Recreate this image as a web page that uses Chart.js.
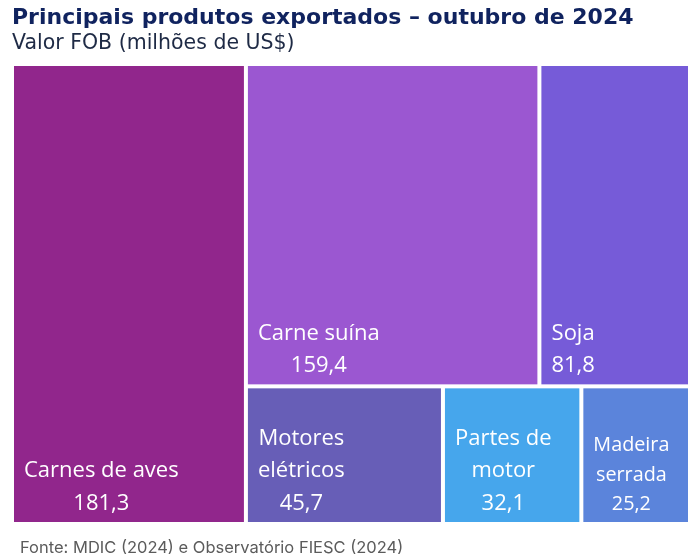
<!DOCTYPE html>
<html lang="pt-BR">
<head>
<meta charset="utf-8">
<title>Principais produtos exportados – outubro de 2024</title>
<script src="https://cdn.jsdelivr.net/npm/chart.js@4.4.1/dist/chart.umd.min.js"></script>
<style>
    html, body { margin: 0; padding: 0; background: #fff; }
    #wrap { width: 694px; height: 560px; position: relative; }
</style>
</head>
<body>
<div id="wrap"><canvas id="treemap"></canvas></div>
<script>
const produtos = ['Carnes de aves', 'Carne suína', 'Soja', 'Motores elétricos', 'Partes de motor', 'Madeira serrada'];
const valores = [181.3, 159.4, 81.8, 45.7, 32.1, 25.2];
const cores = ['#91268c', '#9b57d1', '#765bd8', '#675eb7', '#46a6ec', '#5b84db'];
// quantos produtos entram em cada faixa do treemap (na ordem dos valores)
const faixas = [1, 2, 3];
const fonteTexto = 'Fonte: MDIC (2024) e Observatório FIESC (2024)';

const fmt = new Intl.NumberFormat('pt-BR', { minimumFractionDigits: 1, maximumFractionDigits: 1 });

// divide a área [0,1]x[0,1] em faixas; w e h são o tamanho real em pixels
function montaTreemap(w, h) {
    let resto = { x: 0, y: 0, w: 1, h: 1 };
    let restoValor = valores.reduce((a, b) => a + b, 0);
    let i = 0;
    const cells = [];

    faixas.forEach((n, k) => {
        const grupo = valores.slice(i, i + n);
        const soma = grupo.reduce((a, b) => a + b, 0);
        const frac = k === faixas.length - 1 ? 1 : soma / restoValor;
        let faixa;

        if (resto.w * w >= resto.h * h) {
            // coluna à esquerda
            faixa = { x: resto.x, y: resto.y, w: resto.w * frac, h: resto.h };
            resto = { x: resto.x + faixa.w, y: resto.y, w: resto.w - faixa.w, h: resto.h };
        } else {
            // linha no topo
            faixa = { x: resto.x, y: resto.y, w: resto.w, h: resto.h * frac };
            resto = { x: resto.x, y: resto.y + faixa.h, w: resto.w, h: resto.h - faixa.h };
        }

        let pos = 0;
        grupo.forEach((v, j) => {
            const f = v / soma;
            if (faixa.w * w >= faixa.h * h) {
                cells.push({ i: i + j, x0: faixa.x + pos * faixa.w, x1: faixa.x + (pos + f) * faixa.w, y0: faixa.y, y1: faixa.y + faixa.h });
            } else {
                cells.push({ i: i + j, x0: faixa.x, x1: faixa.x + faixa.w, y0: faixa.y + pos * faixa.h, y1: faixa.y + (pos + f) * faixa.h });
            }
            pos += f;
        });

        restoValor -= soma;
        i += n;
    });

    return cells;
}

function quebraLinhas(ctx, texto, maxW) {
    const linhas = [];
    let atual = '';
    texto.split(' ').forEach(p => {
        const teste = atual ? atual + ' ' + p : p;
        if (atual && ctx.measureText(teste).width > maxW) {
            linhas.push(atual);
            atual = p;
        } else {
            atual = teste;
        }
    });
    linhas.push(atual);
    return linhas;
}

const treemapPlugin = {
    id: 'treemapCells',
    beforeDatasetsDraw(chart) {
        const { ctx, scales: { x, y } } = chart;
        const w = Math.abs(x.getPixelForValue(1) - x.getPixelForValue(0));
        const h = Math.abs(y.getPixelForValue(1) - y.getPixelForValue(0));
        const gap = 2;

        ctx.save();
        montaTreemap(w, h).forEach(c => {
            const left = x.getPixelForValue(c.x0) + gap;
            const right = x.getPixelForValue(c.x1) - gap;
            const top = y.getPixelForValue(c.y0) + gap;
            const bottom = y.getPixelForValue(c.y1) - gap;

            ctx.fillStyle = cores[c.i];
            ctx.fillRect(left, top, right - left, bottom - top);

            // rótulo: nome + valor, no canto inferior esquerdo
            const pad = 10;
            const maxW = right - left - 2 * 12;
            let size = 22;
            ctx.font = size + 'px "Open Sans"';
            const maiorPalavra = () => Math.max(...produtos[c.i].split(' ').map(p => ctx.measureText(p).width));
            while (maiorPalavra() > maxW && size > 9) {
                size = size * 0.9;
                ctx.font = size + 'px "Open Sans"';
            }

            const linhas = quebraLinhas(ctx, produtos[c.i], maxW);
            linhas.push(fmt.format(valores[c.i]));
            const blocoW = Math.max(...linhas.map(l => ctx.measureText(l).width));
            const lh = size * 1.48;
            const cx = left + pad + blocoW / 2;

            ctx.fillStyle = '#ffffff';
            ctx.textAlign = 'center';
            ctx.textBaseline = 'alphabetic';
            linhas.forEach((l, k) => {
                ctx.fillText(l, cx, bottom - 12 - (linhas.length - 1 - k) * lh);
            });
        });
        ctx.restore();
    },
    afterDraw(chart) {
        const { ctx } = chart;
        ctx.save();
        ctx.font = '16.5px Inter';
        ctx.fillStyle = '#5b5b5b';
        ctx.textAlign = 'left';
        ctx.textBaseline = 'alphabetic';
        ctx.fillText(fonteTexto, 20, 553);
        ctx.restore();
    }
};

new Chart(document.getElementById('treemap'), {
    type: 'scatter',
    data: {
        datasets: [{
            label: 'Valor FOB',
            data: [],
            pointRadius: 0
        }]
    },
    options: {
        responsive: true,
        maintainAspectRatio: false,
        animation: false,
        events: [],
        layout: {
            padding: { left: 12, right: 4, top: 0, bottom: 36 }
        },
        scales: {
            x: { type: 'linear', min: 0, max: 1, display: false },
            y: { type: 'linear', min: 0, max: 1, reverse: true, display: false }
        },
        plugins: {
            legend: { display: false },
            tooltip: { enabled: false },
            title: {
                display: true,
                text: 'Principais produtos exportados – outubro de 2024',
                align: 'start',
                color: '#10235f',
                font: { family: '"DejaVu Sans"', size: 22, weight: 'bold' },
                padding: { top: 5, bottom: 0 }
            },
            subtitle: {
                display: true,
                text: 'Valor FOB (milhões de US$)',
                align: 'start',
                color: '#1e2a45',
                font: { family: '"DejaVu Sans"', size: 20.5, weight: 'normal' },
                padding: { top: 0, bottom: 8 }
            }
        }
    },
    plugins: [treemapPlugin]
});
</script>
</body>
</html>
